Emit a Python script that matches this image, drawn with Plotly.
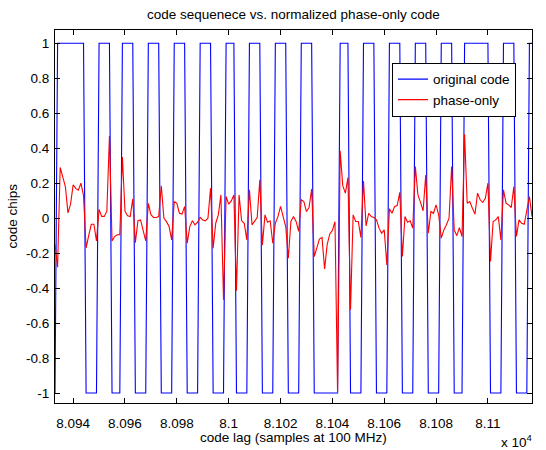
import plotly.graph_objects as go

# sample index (code lag) range
lag_start = 80933
lag_end = 81117

# original code: runs of (chip value, number of samples)
code_runs = [(-1, 1), (1, 11), (-1, 5), (1, 5), (-1, 4), (1, 5), (-1, 5), (1, 5), (-1, 5),
             (1, 5), (-1, 5), (1, 5), (-1, 5), (1, 4), (-1, 5), (1, 5), (-1, 5), (1, 5),
             (-1, 5), (1, 5), (-1, 10), (1, 4), (-1, 5), (1, 5), (-1, 5), (1, 5), (-1, 5),
             (1, 5), (-1, 5), (1, 5), (-1, 4), (1, 10), (-1, 5), (1, 5), (-1, 5), (1, 2)]

# normalized phase-only code, one value per sample
phase_only = [
    -0.15, -0.28, 0.29, 0.24, 0.18, 0.03, 0.08, 0.19, 0.17, 0.16,
    0.20, 0.13, -0.17, -0.10, -0.035, -0.035, -0.13, 0.05, 0.01, 0.01,
    0.04, 0.47, -0.13, -0.105, -0.095, -0.095, 0.35, 0.04, 0.013, 0.009,
    0.11, -0.14, -0.015, -0.01, -0.067, -0.13, 0.085, 0.02, 0.004, 0.004,
    0.009, 0.185, 0.0, -0.02, -0.048, -0.124, 0.095, 0.085, 0.028, 0.023,
    0.067, -0.143, -0.048, -0.015, -0.038, -0.023, 0.004, -0.01, -0.015, 0.0,
    0.171, -0.172, -0.029, 0.019, 0.133, -0.467, 0.124, 0.08, 0.099, 0.133,
    -0.415, 0.133, -0.015, -0.029, -0.124, 0.162, -0.038, -0.015, 0.004, 0.219,
    -0.153, 0.019, -0.023, -0.015, -0.143, -0.029, 0.009, 0.067, 0.009, -0.048,
    -0.229, -0.019, 0.009, -0.019, -0.076, 0.105, 0.095, 0.038, 0.061, 0.167,
    -0.22, -0.17, -0.12, -0.11, -0.29, -0.15, -0.09, -0.07, -0.02, -1.0,
    0.385, 0.186, 0.143, 0.232, -0.524, 0.019, -0.019, -0.019, -0.11, 0.213,
    -0.044, 0.028, 0.009, 0.004, -0.01, -0.057, -0.086, -0.067, -0.267, 0.053,
    0.028, 0.067, 0.072, 0.148, -0.219, 0.009, -0.023, -0.015, -0.057, 0.295,
    0.133, 0.09, 0.042, 0.247, -0.086, 0.038, 0.028, 0.076, 0.019, -0.114,
    -0.067, -0.038, 0.0, 0.295, -0.067, -0.1, -0.054, -0.105, 0.48, 0.085,
    0.095, 0.057, 0.023, 0.143, 0.105, 0.09, 0.114, 0.2, -0.248, -0.019,
    -0.01, 0.009, -0.124, 0.162, 0.085, 0.076, 0.061, 0.18, -0.105, -0.01,
    -0.029, -0.035, 0.057, 0.124, 0.009,
]

x_tick_vals = [80940, 80960, 80980, 81000, 81020, 81040, 81060, 81080, 81100]
x_tick_text = ["8.094", "8.096", "8.098", "8.1", "8.102", "8.104", "8.106", "8.108", "8.11"]
y_tick_vals = [-1, -0.8, -0.6, -0.4, -0.2, 0, 0.2, 0.4, 0.6, 0.8, 1]
y_tick_text = ["-1", "-0.8", "-0.6", "-0.4", "-0.2", "0", "0.2", "0.4", "0.6", "0.8", "1"]

lags = list(range(lag_start, lag_end + 1))
code = []
for val, n in code_runs:
    code.extend([val] * n)

FONT = "Liberation Sans, Arial, Helvetica, sans-serif"
FS = 13.5

fig = go.Figure()
fig.add_trace(go.Scatter(x=lags, y=code, mode="lines", name="original code",
                         line=dict(color="#0000FF", width=1.1)))
fig.add_trace(go.Scatter(x=lags, y=phase_only, mode="lines", name="phase-only",
                         line=dict(color="#FF0000", width=1.1)))

axis_common = dict(showline=True, linecolor="black", linewidth=1, mirror="ticks",
                   ticks="inside", ticklen=5, tickcolor="black", tickwidth=1,
                   showgrid=False, zeroline=False,
                   tickfont=dict(family=FONT, size=FS, color="black"))

fig.update_layout(
    width=546, height=450,
    margin=dict(l=55, r=14, t=30, b=47),
    paper_bgcolor="white", plot_bgcolor="white",
    showlegend=True,
    legend=dict(x=0.7065, y=0.912, xanchor="left", yanchor="top",
                bgcolor="white", bordercolor="black", borderwidth=1,
                font=dict(family=FONT, size=FS, color="black"),
                tracegroupgap=0, itemwidth=30),
    xaxis=dict(range=[lag_start, lag_end], tickvals=x_tick_vals, ticktext=x_tick_text,
               ticklabelstandoff=8, **axis_common),
    yaxis=dict(range=[-1.057, 1.076], tickvals=y_tick_vals, ticktext=y_tick_text,
               ticklabelstandoff=2, **axis_common),
    annotations=[
        dict(text="code sequenece vs. normalized phase-only code", xref="paper", yref="paper",
             x=0.5, y=(403 - 15) / 373, xanchor="center", yanchor="middle", showarrow=False,
             font=dict(family=FONT, size=FS, color="black")),
        dict(text="code lag (samples at 100 MHz)", xref="paper", yref="paper",
             x=0.5, y=(403 - 437) / 373, xanchor="center", yanchor="middle", showarrow=False,
             font=dict(family=FONT, size=FS, color="black")),
        dict(text="code chips", xref="paper", yref="paper", textangle=-90,
             x=(12 - 55) / 477, y=0.5, xanchor="center", yanchor="middle", showarrow=False,
             font=dict(family=FONT, size=FS, color="black")),
        dict(text="x 10<sup>4</sup>", xref="paper", yref="paper",
             x=(534 - 55) / 477, y=(403 - 441) / 373, xanchor="right", yanchor="middle",
             showarrow=False, font=dict(family=FONT, size=FS, color="black")),
    ],
)

fig.write_html("out.html")
